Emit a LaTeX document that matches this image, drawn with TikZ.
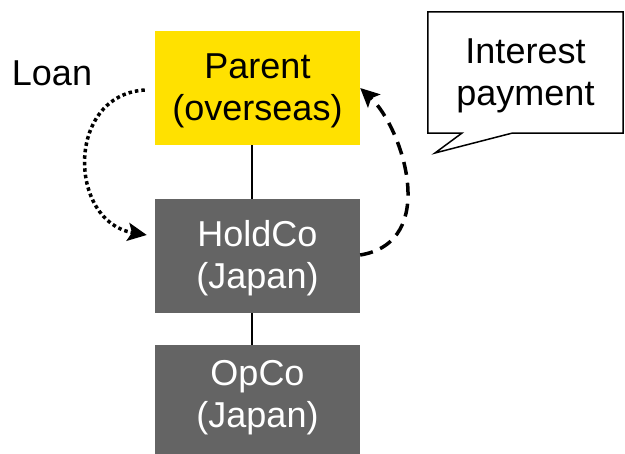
\documentclass[tikz,border=0pt]{standalone}
\usepackage{fontspec}
\setmainfont{Liberation Sans}
\usetikzlibrary{arrows.meta,calc}
\definecolor{parentyellow}{HTML}{FFE100}
\definecolor{entitygray}{HTML}{646464}
% two centred lines, set a little below the middle of their box
\newcommand\twolines[2]{\raisebox{-3.3pt}[\height][\depth]{%
  \begin{tabular}{@{}c@{}}#1\\#2\end{tabular}}}
\tikzset{
  bigtext/.style={font=\fontsize{36}{42}\selectfont},
  entity/.style={rectangle, minimum width=205pt, inner sep=0pt, bigtext},
  parentbox/.style={entity, fill=parentyellow, text=black, minimum height=114pt},
  jpbox/.style={entity, fill=entitygray, text=white, minimum height=114pt},
  owner/.style={line width=1.5pt},
  flowtip/.style={-{Stealth[length=19pt,width=18pt,inset=4pt]}},
  loanflow/.style={flowtip, line width=3.5pt, dash pattern=on 3.5pt off 3pt},
  payflow/.style={flowtip, line width=3.5pt, dash pattern=on 13pt off 8pt},
  plain/.style={bigtext, inner sep=0pt}
}
\begin{document}
\begin{tikzpicture}[x=1pt,y=-1pt]
  \useasboundingbox (0,0) rectangle (625,454);

  % entities
  \node[parentbox] (parent) at (257.5,88) {\twolines{Parent}{(overseas)}};
  \node[jpbox] (hold) at (257.5,256) {\twolines{HoldCo}{(Japan)}};
  \node[jpbox, minimum height=100pt] (opco) at (257.5,395) {\twolines{OpCo}{(Japan)}};
  \fill[entitygray] (opco.south west) rectangle (360,456);

  % ownership lines
  \draw[owner] ([xshift=-5.5pt]parent.south) -- ([xshift=-5.5pt]hold.north);
  \draw[owner] ([xshift=-5.5pt]hold.south) -- ([xshift=-5.5pt]opco.north);

  % loan
  \node[plain, anchor=base] (loan) at (52,86) {Loan};
  \draw[loanflow] ([xshift=-10pt,yshift=-2pt]parent.west)
    .. controls (65,95) and (68,222) .. ([xshift=-8pt,yshift=21pt]hold.west);

  % interest payment
  \draw[payflow] ([yshift=1pt]hold.east)
    .. controls (440,242) and (403,128) .. (parent.east);

  \node[rectangle, minimum width=195pt, minimum height=121pt, plain] (bubble)
    at (525.5,72.5) {\twolines{Interest}{payment}};
  \coordinate (tailtip) at (435,153);
  \draw[line width=1.5pt, line join=miter]
    (bubble.north west) -- (bubble.north east) -- (bubble.south east)
    -- ($(bubble.south west)+(84,0)$) -- (tailtip)
    -- ($(bubble.south west)+(34,0)$) -- (bubble.south west) -- cycle;
\end{tikzpicture}
\end{document}
